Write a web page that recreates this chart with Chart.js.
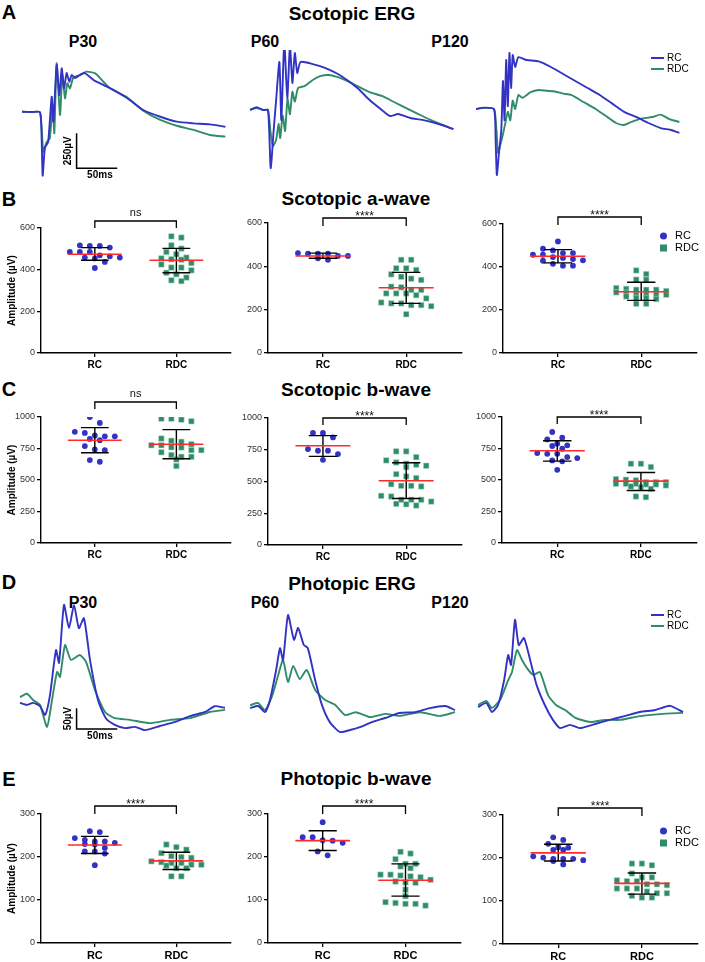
<!DOCTYPE html>
<html>
<head>
<meta charset="utf-8">
<script src="https://cdn.jsdelivr.net/npm/chart.js@4.4.1/dist/chart.umd.min.js"></script>
<style>
  body { margin: 0; background: #fff; }
  #fig { position: relative; width: 705px; height: 962px; overflow: hidden; background: #fff;
         font-family: "Liberation Sans", Arial, Helvetica, sans-serif; color: #000; }
  #fig canvas { position: absolute; }
  .lbl { position: absolute; white-space: nowrap; line-height: 1; transform: translate(-50%, -50%); }
  .lg { position: absolute; white-space: nowrap; line-height: 1; font-size: 10px; transform: translateY(-50%); }
  .lg i { display: inline-block; width: 13px; height: 2px; vertical-align: middle; margin-right: 3px; }
  .mk { position: absolute; white-space: nowrap; line-height: 1; font-size: 11px; transform: translateY(-50%); }
  .mk b { display: inline-block; vertical-align: middle; margin-right: 8px; }
</style>
</head>
<body>
<div id="fig"></div>
<script>
// ---------- data ----------
const GROUPS = ['RC', 'RDC'];
const AGES = ['P30', 'P60', 'P120'];

// scotopic a-wave (µV)
const aP30RC = [485, 514, 514, 506, 517, 485, 485, 458, 454, 464, 469, 458, 437, 408];
const aP30RDC = [560, 554, 517, 501, 485, 474, 458, 454, 450, 448, 432, 425, 410, 410, 397, 385, 378, 362, 349, 345];
const aP60RC = [461, 437, 458, 448, 448, 458, 458, 430];
const aP60RDC = [430, 430, 391, 383, 391, 352, 343, 363, 337, 306, 291, 303, 275, 267, 275, 275, 291, 252, 233, 229, 221, 221, 216, 229, 179];
const aP120RC = [519, 485, 465, 457, 457, 465, 477, 431, 429, 437, 442, 446, 406, 406, 415];
const aP120RDC = [384, 367, 341, 341, 298, 282, 294, 302, 294, 294, 271, 271, 271, 271, 263, 256, 251, 256, 229, 229, 280, 288];
// scotopic b-wave (µV)
const bP30RC = [1000, 953, 874, 882, 847, 847, 853, 816, 826, 769, 742, 737, 658, 645];
const bP30RDC = [987, 979, 966, 987, 811, 784, 829, 803, 776, 737, 776, 758, 737, 663, 611, 698, 684, 684, 760, 720];
const bP60RC = [882, 882, 847, 755, 742, 742, 716, 671];
const bP60RDC = [737, 737, 692, 666, 650, 632, 640, 613, 624, 540, 527, 558, 479, 461, 466, 466, 356, 356, 342, 382, 387, 356, 311, 321, 324];
const bP120RC = [881, 836, 822, 775, 770, 748, 788, 714, 674, 708, 708, 682, 648, 655, 581];
const bP120RDC = [629, 629, 603, 502, 483, 507, 470, 483, 497, 465, 449, 457, 465, 470, 444, 369, 364, 430, 483, 470];
// photopic b-wave (µV)
const pP30RC = [260, 258, 240, 244, 233, 229, 230, 236, 236, 221, 213, 213, 208, 181];
const pP30RDC = [229, 223, 217, 209, 202, 200, 198, 182, 180, 182, 174, 174, 186, 186, 155, 155, 190, 188];
const pP60RC = [281, 246, 246, 238, 239, 233, 213, 204];
const pP60RDC = [212, 208, 195, 184, 178, 174, 184, 155, 159, 153, 159, 157, 143, 141, 140, 147, 124, 95, 93, 91, 91, 87, 109];
const pP120RC = [248, 242, 225, 233, 224, 219, 219, 204, 195, 198, 193, 198, 201, 198, 185];
const pP120RDC = [187, 187, 183, 164, 139, 146, 148, 155, 146, 155, 139, 122, 129, 129, 137, 129, 118, 108, 112, 118, 108];

// [centre line, lower bar, upper bar] per group
const aStats = [[[474, 445, 506], [445, 385, 502]], [[448, 437, 461], [301, 229, 372]], [[450, 419, 481], [285, 245, 329]]];
const bStats = [[[816, 716, 916], [784, 669, 900]], [[782, 698, 861], [506, 366, 648]], [[732, 650, 812], [491, 417, 560]]];
const pStats = [[[228, 208, 248], [191, 171, 211]], [[238, 215, 261], [146, 109, 184]], [[212, 193, 232], [141, 116, 165]]];
const aSig = ['ns', '****', '****'];
const bSig = ['ns', '****', '****'];
const pSig = ['****', '****', '****'];

// ERG traces: [time ms, amplitude µV]
const scoP30RC = [[-22,2],[-10,0],[0,-2],[2,-186],[3.3,-455],[6,-257],[10,-214],[14.4,109],[16.4,-69],[20.5,336],[23.7,121],[26.7,312],[29.5,171],[32.8,278],[36,216],[39,264],[43,243],[49,264],[55,278],[66,228],[86,171],[107,100],[127,14],[148,-34],[168,-69],[189,-81],[209,-88],[228,-105]];
const scoP30RDC = [[-22,2],[-10,0],[0,-2],[4,-283],[8,-216],[12,-188],[15.6,50],[17.6,-152],[20.5,348],[24.6,-21],[27.5,264],[30.8,98],[33.6,205],[36.9,169],[41,245],[49,264],[57,288],[68,276],[78,216],[86,171],[107,105],[127,10],[148,-57],[168,-98],[189,-128],[209,-164],[228,-176]];
const scoP60RC = [[-22,0],[-14,20],[-6,0],[0,0],[3.3,-414],[7,-143],[10,71],[14,343],[16.4,-71],[20,486],[23.7,86],[27,457],[30,193],[33,407],[36,264],[40,343],[55,328],[70,300],[90,243],[110,157],[125,71],[140,0],[150,-43],[160,-29],[175,-57],[190,-71],[210,-100],[228,-136]];
const scoP60RDC = [[-22,0],[-14,14],[-6,0],[0,0],[3,-150],[6,-257],[10,-214],[13,-100],[15,-200],[18,-40],[21,-150],[24,80],[27,-30],[30,130],[33,60],[37,157],[45,171],[55,214],[65,243],[75,250],[85,236],[95,214],[110,171],[125,128],[140,100],[155,57],[170,14],[185,-29],[200,-71],[215,-107],[228,-136]];
const scoP120RC = [[-22,0],[-12,10],[0,0],[2,-220],[3.5,-471],[6,-320],[9,-150],[11,200],[13,-80],[15,350],[17,20],[19,400],[21,150],[23,385],[26,300],[30,370],[40,350],[55,340],[70,300],[85,250],[100,200],[115,150],[130,100],[145,40],[160,-20],[175,-57],[190,-100],[205,-136],[218,-150],[228,-171]];
const scoP120RDC = [[-22,0],[-12,8],[0,0],[3,-150],[5,-314],[8,-250],[11,-180],[14,-100],[17,-20],[20,-80],[23,60],[26,0],[30,100],[35,80],[45,120],[55,136],[65,130],[75,125],[85,110],[95,100],[110,50],[125,0],[140,-60],[150,-100],[160,-114],[170,-90],[180,-70],[195,-57],[205,-40],[215,-70],[228,-93]];
const phoP30RC = [[-24.6,-7],[-16,-12],[-8.6,-7],[0,-15],[6.2,-36],[12.3,12],[19.7,121],[23.4,90],[29.5,230],[35.7,174],[41.8,230],[47.8,174],[54,198],[61.5,97],[71.3,0],[81,-44],[92,-60],[104.6,-68],[117,-65],[129,-73],[147.6,-63],[166,-53],[184.5,-39],[203,-29],[215,-15],[227.6,-19]];
const phoP30RDC = [[-24.6,7],[-16,15],[-8.6,0],[0,-12],[8.6,-65],[14.8,0],[21,68],[24.6,56],[30.8,133],[38,97],[49,109],[56.6,92],[67.7,24],[80,-29],[92,-44],[110.7,-48],[135,-56],[160,-48],[184.5,-44],[209,-29],[227.6,-24]];
const phoP60RC = [[-22,-5],[-12,0],[-3.7,-15],[2.5,15],[10,87],[14.8,140],[18.5,111],[24.6,220],[32,160],[37,189],[44,148],[49,140],[58,63],[66.4,2],[76,-39],[88.6,-63],[101,-58],[113,-51],[128,-39],[144,-29],[162,-17],[181,-15],[199,-5],[218,0],[230,-10]];
const phoP60RDC = [[-22,2],[-12,7],[-3.7,-10],[5,24],[12.3,73],[18.5,111],[24.6,58],[31,97],[39,65],[47.6,87],[58,39],[70,15],[83,2],[95,-22],[108,-15],[126,-27],[144,-19],[162,-24],[187,-15],[211,-24],[230,-15]];
const phoP120RC = [[-22,-5],[-12,5],[-5,-17],[2.5,0],[10,60],[15,121],[18.5,97],[23.4,206],[28,145],[34.4,162],[42,109],[50,48],[60,0],[70,-36],[79,-56],[91,-48],[103,-56],[122,-46],[140,-36],[158,-27],[177,-17],[196,-12],[214,-2],[230,-17]];
const phoP120RDC = [[-22,0],[-12,10],[-5,-7],[5,12],[15,60],[19.7,80],[25.8,133],[32,109],[39,87],[46,73],[54,80],[64,24],[73.8,0],[85,-12],[97.6,-31],[116,-41],[134,-36],[153,-36],[177,-27],[202,-22],[230,-19]];

// ---------- setup ----------
const FONT = '"Liberation Sans", Arial, Helvetica, sans-serif';
Chart.defaults.font.family = FONT;
Chart.defaults.animation = false;
const BLUE = '#3232c3', GREEN = '#2f8c68', RED = '#ff2b2b';
const fig = document.getElementById('fig');

function makeCanvas(x, y, w, h) {
    const c = document.createElement('canvas');
    c.width = w; c.height = h;
    c.style.left = x + 'px'; c.style.top = y + 'px';
    c.style.width = w + 'px'; c.style.height = h + 'px';
    fig.appendChild(c);
    return c;
}

function label(text, x, y, size, weight, rotate) {
    const d = document.createElement('div');
    d.className = 'lbl';
    d.textContent = text;
    d.style.left = x + 'px'; d.style.top = y + 'px';
    d.style.fontSize = size + 'px';
    d.style.fontWeight = weight || 'bold';
    if (rotate) d.style.transform = 'translate(-50%,-50%) rotate(-90deg)';
    fig.appendChild(d);
}

// significance bracket between the two groups
const bracketPlugin = {
    id: 'bracket',
    afterDatasetsDraw(chart, args, o) {
        if (!o.text) return;
        const { ctx, chartArea, scales } = chart;
        const x1 = scales.x.getPixelForValue(1), x2 = scales.x.getPixelForValue(2);
        const y = chartArea.top - o.lift;
        ctx.save();
        ctx.strokeStyle = '#000'; ctx.lineWidth = 1.3;
        ctx.beginPath();
        ctx.moveTo(x1, y + o.drop); ctx.lineTo(x1, y); ctx.lineTo(x2, y); ctx.lineTo(x2, y + o.drop);
        ctx.stroke();
        ctx.fillStyle = '#111'; ctx.textAlign = 'center'; ctx.textBaseline = 'alphabetic';
        if (o.text === 'ns') { ctx.font = '11px ' + FONT; ctx.fillText('ns', (x1 + x2) / 2, y - 5); }
        else { ctx.font = '12px ' + FONT; ctx.fillText(o.text, (x1 + x2) / 2, y + 2); }
        ctx.restore();
    }
};

// scale bar for the ERG traces
const scaleBarPlugin = {
    id: 'scalebar',
    afterDatasetsDraw(chart, args, o) {
        if (!o.dv) return;
        const { ctx, scales } = chart;
        const x0 = scales.x.getPixelForValue(o.t), x1 = scales.x.getPixelForValue(o.t + o.dt);
        const y0 = scales.y.getPixelForValue(o.v), y1 = scales.y.getPixelForValue(o.v + o.dv);
        ctx.save();
        ctx.strokeStyle = '#000'; ctx.lineWidth = 1.5;
        ctx.beginPath(); ctx.moveTo(x0, y1); ctx.lineTo(x0, y0); ctx.lineTo(x1, y0); ctx.stroke();
        ctx.fillStyle = '#000'; ctx.font = 'bold 10px ' + FONT;
        ctx.textAlign = 'center'; ctx.textBaseline = 'middle';
        ctx.fillText(o.tLabel, (x0 + x1) / 2 + 3, y0 + 7);
        ctx.translate(x0 - 8, (y0 + y1) / 2); ctx.rotate(-Math.PI / 2);
        ctx.fillText(o.vLabel, 0, 0);
        ctx.restore();
    }
};
Chart.register(bracketPlugin, scaleBarPlugin);

// column scatter: points sharing a row are spread symmetrically (at most 6 per row)
function swarm(values, centre, bin, gap) {
    const sorted = values.slice().sort((a, b) => b - a);
    const pts = [];
    let row = [];
    const flush = () => {
        row.forEach((v, i) => pts.push({ x: centre + (i - (row.length - 1) / 2) * gap, y: v }));
        row = [];
    };
    sorted.forEach(v => { if (row.length && (row[0] - v > bin || row.length >= 6)) flush(); row.push(v); });
    flush();
    return pts;
}

const X_MIN = 0.34, X_MAX = 2.67;

function statSets(stats) {
    const sets = [];
    stats.forEach(([m, lo, hi], i) => {
        const c = i + 1, cap = 0.17, half = 0.33;
        sets.push({ data: [{ x: c - half, y: m }, { x: c + half, y: m }], borderColor: RED, borderWidth: 1.6 });
        sets.push({ data: [{ x: c - cap, y: hi }, { x: c + cap, y: hi }, { x: c, y: null }, { x: c, y: hi }, { x: c, y: lo },
                           { x: c, y: null }, { x: c - cap, y: lo }, { x: c + cap, y: lo }], borderColor: '#000', borderWidth: 1.4 });
    });
    return sets.map(s => Object.assign(s, { showLine: true, pointRadius: 0, spanGaps: false }));
}

function scatterPanel(box, yMax, step, rc, rdc, stats, sig, lift, drop, yTitle, catSize) {
    const [L, T, R, B] = box;
    const yw = yTitle ? L : 36, padTop = 40, padR = 6, xh = 24;
    const cv = makeCanvas(L - yw, T - padTop, R - L + yw + padR, B - T + padTop + xh);
    const pxX = (R - L) / (X_MAX - X_MIN), pxY = (B - T) / yMax;
    const bin = 6 / pxY, gap = 10 / pxX;
    const axisGrid = { drawOnChartArea: false, drawTicks: true, tickLength: 4, color: '#000', lineWidth: 1.3 };
    const axisBorder = { color: '#000', width: 1.4 };
    new Chart(cv, {
        type: 'scatter',
        data: {
            datasets: statSets(stats).concat([
                { data: swarm(rc, 1, bin, gap), pointStyle: 'circle', pointRadius: 2.9, backgroundColor: BLUE, borderWidth: 0 },
                { data: swarm(rdc, 2, bin, gap), pointStyle: 'rect', pointRadius: 3.9, backgroundColor: GREEN,
                  borderColor: 'rgba(180,220,200,0.8)', borderWidth: 0.7 }
            ])
        },
        options: {
            responsive: false, animation: false, events: [],
            layout: { padding: { top: padTop, right: padR, left: 0, bottom: 0 }, autoPadding: false },
            plugins: { legend: { display: false }, tooltip: { enabled: false },
                       bracket: { text: sig, lift: lift, drop: drop } },
            scales: {
                x: {
                    type: 'linear', min: X_MIN, max: X_MAX,
                    afterFit: s => { s.height = xh; },
                    afterBuildTicks: s => { s.ticks = [{ value: 1 }, { value: 2 }]; },
                    ticks: { callback: v => GROUPS[v - 1], color: '#000', padding: 2, font: { size: catSize, weight: 'bold' } },
                    grid: axisGrid, border: axisBorder
                },
                y: {
                    min: 0, max: yMax,
                    afterFit: s => { s.width = yw; },
                    ticks: { stepSize: step, callback: v => String(v), color: '#333', padding: 2, font: { size: 9 } },
                    grid: axisGrid, border: axisBorder,
                    title: { display: !!yTitle, text: 'Amplitude (µV)', color: '#000',
                             font: { size: 10, weight: 'bold' }, padding: { top: 6, bottom: 0 } }
                }
            }
        }
    });
}

// ERG trace panels: fixed px per ms / µV taken from the scale bars
function tracePanel(onsetPx, basePx, msPx, uvPx, up, down, rc, rdc, bar) {
    const left = onsetPx - 25, w = 220, top = basePx - up, h = up + down;
    const cv = makeCanvas(left, top, w, h);
    const toXY = arr => arr.map(([t, v]) => ({ x: t, y: v }));
    new Chart(cv, {
        type: 'line',
        data: { datasets: [
            { data: toXY(rc), borderColor: BLUE, borderWidth: 1.9, pointRadius: 0, tension: 0.2 },
            { data: toXY(rdc), borderColor: GREEN, borderWidth: 1.9, pointRadius: 0, tension: 0.2 }
        ] },
        options: {
            responsive: false, animation: false, events: [],
            layout: { padding: 0, autoPadding: false },
            plugins: { legend: { display: false }, tooltip: { enabled: false }, scalebar: bar || {} },
            scales: {
                x: { type: 'linear', display: false, min: -25 * msPx, max: (w - 25) * msPx },
                y: { display: false, min: -down * uvPx, max: up * uvPx }
            }
        }
    });
}

// ---------- figure ----------
label('A', 9, 12, 20); label('Scotopic ERG', 352, 13, 19);
label('B', 9, 199, 20); label('Scotopic a-wave', 356, 198, 19);
label('C', 9, 389, 20); label('Scotopic b-wave', 356, 389, 19);
label('D', 9, 582, 20); label('Photopic ERG', 352, 583, 19);
label('E', 9, 779, 20); label('Photopic b-wave', 356, 778, 19);
const ageX = [83, 265, 450];
AGES.forEach((a, i) => { label(a, ageX[i], 42, 16); label(a, ageX[i], 603, 16); });

const SMS = 1.23, SUV = 7.14, PUV = 2.42;
tracePanel(40, 112, SMS, SUV, 60, 70, scoP30RC, scoP30RDC,
    { t: 45, v: -402, dt: 50, dv: 250, tLabel: '50ms', vLabel: '250µV' });
tracePanel(268, 110, SMS, SUV, 60, 70, scoP60RC, scoP60RDC);
tracePanel(494, 109, SMS, SUV, 60, 70, scoP120RC, scoP120RDC);
tracePanel(40, 700, SMS, PUV, 100, 40, phoP30RC, phoP30RDC,
    { t: 45, v: -70, dt: 50, dv: 50, tLabel: '50ms', vLabel: '50µV' });
tracePanel(268, 706, SMS, PUV, 100, 40, phoP60RC, phoP60RDC);
tracePanel(496, 705, SMS, PUV, 100, 40, phoP120RC, phoP120RDC);

const aBoxes = [[41, 228, 231, 353], [268, 223, 462, 353], [503, 224, 697, 353]];
const bBoxes = [[41, 417, 231, 543], [268, 418, 462, 545], [502, 417, 697, 543]];
const pBoxes = [[41, 814, 231, 943], [268, 814, 461, 943], [503, 815, 698, 944]];
const aData = [[aP30RC, aP30RDC], [aP60RC, aP60RDC], [aP120RC, aP120RDC]];
const bData = [[bP30RC, bP30RDC], [bP60RC, bP60RDC], [bP120RC, bP120RDC]];
const pData = [[pP30RC, pP30RDC], [pP60RC, pP60RDC], [pP120RC, pP120RDC]];
const aLift = [[7, 7], [5, 8], [7, 8]];
const bLift = [[15, 7], [0, 7], [0, 7]];
const pLift = [[8, 8], [8, 8], [7, 8]];
for (let i = 0; i < 3; i++) {
    scatterPanel(aBoxes[i], 600, 200, aData[i][0], aData[i][1], aStats[i], aSig[i], aLift[i][0], aLift[i][1], i === 0, 10);
    scatterPanel(bBoxes[i], 1000, 250, bData[i][0], bData[i][1], bStats[i], bSig[i], bLift[i][0], bLift[i][1], i === 0, 10);
    scatterPanel(pBoxes[i], 300, 100, pData[i][0], pData[i][1], pStats[i], pSig[i], pLift[i][0], pLift[i][1], i === 0, 11);
}

// legends
function lineLegend(y) {
    [['RC', BLUE, y], ['RDC', GREEN, y + 11]].forEach(([t, c, yy]) => {
        const d = document.createElement('div');
        d.className = 'lg';
        d.style.left = '651px'; d.style.top = yy + 'px';
        d.innerHTML = '<i style="background:' + c + '"></i>' + t;
        fig.appendChild(d);
    });
}
function markerLegend(y) {
    [['RC', 'border-radius:50%;width:7px;height:7px;background:' + BLUE, y],
     ['RDC', 'width:7px;height:7px;background:' + GREEN, y + 12]].forEach(([t, st, yy]) => {
        const d = document.createElement('div');
        d.className = 'mk';
        d.style.left = '660px'; d.style.top = yy + 'px';
        d.innerHTML = '<b style="' + st + '"></b>' + t;
        fig.appendChild(d);
    });
}
lineLegend(58); lineLegend(615);
markerLegend(235); markerLegend(830);
</script>
</body>
</html>
